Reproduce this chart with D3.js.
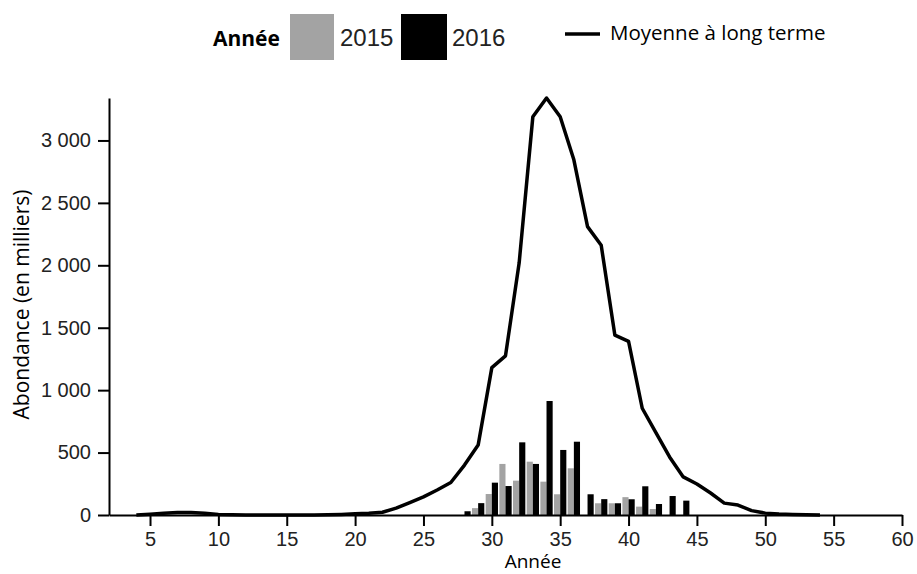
<!DOCTYPE html>
<html>
<head>
<meta charset="utf-8">
<script src="https://cdn.jsdelivr.net/npm/d3@7"></script>
<style>
  body { margin: 0; background: #fff; }
  svg { display: block; }
</style>
</head>
<body>
<div class="graph-container"></div>
<script>
// Données (abondance en milliers)
const years = [28, 29, 30, 31, 32, 33, 34, 35, 36, 37, 38, 39, 40, 41, 42, 43, 44];
const values2015 = [0, 55, 168, 409, 275, 427, 267, 166, 374, 0, 94, 94, 143, 67, 48, 0, 0];
const values2016 = [30, 95, 259, 232, 582, 409, 913, 521, 587, 166, 127, 94, 126, 230, 88, 152, 115];

// Moyenne à long terme
const meanYears = [4, 5, 6, 7, 8, 9, 10, 11, 12, 13, 14, 15, 16, 17, 18, 19, 20, 21, 22, 23, 24, 25, 26, 27, 28, 29,
  30, 31, 32, 33, 34, 35, 36, 37, 38, 39, 40, 41, 42, 43, 44, 45, 46, 47, 48, 49, 50, 51, 52, 53, 54];
const meanValues = [0, 6, 14, 20, 20, 14, 5, 2, 0, 0, 0, 0, 0, 0, 2, 5, 10, 14, 22, 55, 100, 145, 200, 260, 400, 560,
  1180, 1275, 2020, 3190, 3340, 3190, 2845, 2310, 2160, 1440, 1390, 855, 660, 465, 305, 248, 176, 95, 80, 35, 15, 8, 4, 2, 0];

const xTicks = [5, 10, 15, 20, 25, 30, 35, 40, 45, 50, 55, 60];
const yTicks = [0, 500, 1000, 1500, 2000, 2500, 3000];

const width = 917, height = 574;
const margin = { top: 98, right: 15, bottom: 59, left: 109 };

const svg = d3.select(".graph-container")
  .append("svg")
  .attr("width", width)
  .attr("height", height);

const x = d3.scaleLinear()
  .domain([2, 60])
  .range([margin.left, width - margin.right]);

const y = d3.scaleLinear()
  .domain([0, 3340])
  .range([height - margin.bottom, margin.top]);

const fr = d3.formatLocale({ decimal: ",", thousands: " ", grouping: [3], currency: ["", " €"] });

// Barres 2015 (gris) à gauche, 2016 (noir) à droite de l'année
const barW = 0.45;
svg.append("g").selectAll("rect")
  .data(years.map((d, i) => ({ year: d, v: values2015[i] })))
  .join("rect")
  .attr("x", d => x(d.year - barW))
  .attr("width", d => x(d.year) - x(d.year - barW))
  .attr("y", d => y(d.v))
  .attr("height", d => y(0) - y(d.v))
  .attr("fill", "#a3a3a3");

svg.append("g").selectAll("rect")
  .data(years.map((d, i) => ({ year: d, v: values2016[i] })))
  .join("rect")
  .attr("x", d => x(d.year))
  .attr("width", d => x(d.year + barW) - x(d.year))
  .attr("y", d => y(d.v))
  .attr("height", d => y(0) - y(d.v))
  .attr("fill", "#000");

// Axes
const xAxis = svg.append("g")
  .attr("transform", `translate(0,${y(0)})`)
  .call(d3.axisBottom(x).tickValues(xTicks).tickSize(11).tickSizeOuter(0).tickPadding(6));
xAxis.select(".domain").attr("stroke-width", 2);
xAxis.selectAll(".tick line").attr("stroke-width", 2);
xAxis.selectAll("text")
  .attr("font-family", "Liberation Sans, Arial, sans-serif")
  .attr("font-size", 20)
  .attr("fill", "#222");

const yAxis = svg.append("g")
  .attr("transform", `translate(${x(2)},0)`)
  .call(d3.axisLeft(y).tickValues(yTicks).tickSize(11).tickSizeOuter(0).tickPadding(7)
    .tickFormat(fr.format(",")));
yAxis.select(".domain").attr("stroke-width", 2);
yAxis.selectAll(".tick line").attr("stroke-width", 2);
yAxis.selectAll("text")
  .attr("font-family", "Liberation Sans, Arial, sans-serif")
  .attr("font-size", 20)
  .attr("fill", "#222");

// Ligne moyenne à long terme
svg.append("path")
  .datum(meanYears.map((d, i) => ({ year: d, v: meanValues[i] })))
  .attr("fill", "none")
  .attr("stroke", "#000")
  .attr("stroke-width", 3.5)
  .attr("stroke-linejoin", "round")
  .attr("d", d3.line().x(d => x(d.year)).y(d => y(d.v)));

// Titres des axes
svg.append("text")
  .attr("x", 533)
  .attr("y", 568)
  .attr("text-anchor", "middle")
  .attr("font-family", "Open Sans, sans-serif")
  .attr("font-size", 19)
  .text("Année");

svg.append("text")
  .attr("transform", `translate(29,${(y(0) + y(3340)) / 2 - 2}) rotate(-90)`)
  .attr("text-anchor", "middle")
  .attr("font-family", "Open Sans, sans-serif")
  .attr("font-size", 21)
  .text("Abondance (en milliers)");

// Légende
const legend = svg.append("g");
legend.append("text")
  .attr("x", 213)
  .attr("y", 46)
  .attr("font-family", "Open Sans, sans-serif")
  .attr("font-weight", "bold")
  .attr("font-size", 21)
  .text("Année");
legend.append("rect").attr("x", 290).attr("y", 14).attr("width", 44).attr("height", 46).attr("fill", "#a3a3a3");
legend.append("text")
  .attr("x", 340).attr("y", 46)
  .attr("font-family", "Liberation Sans, Arial, sans-serif")
  .attr("font-size", 24).attr("fill", "#222")
  .text("2015");
legend.append("rect").attr("x", 401).attr("y", 14).attr("width", 46).attr("height", 46).attr("fill", "#000");
legend.append("text")
  .attr("x", 452).attr("y", 46)
  .attr("font-family", "Liberation Sans, Arial, sans-serif")
  .attr("font-size", 24).attr("fill", "#222")
  .text("2016");
legend.append("line")
  .attr("x1", 565).attr("x2", 600).attr("y1", 34).attr("y2", 34)
  .attr("stroke", "#000").attr("stroke-width", 3.5);
legend.append("text")
  .attr("x", 610).attr("y", 40)
  .attr("font-family", "Open Sans, sans-serif")
  .attr("font-size", 20.5)
  .text("Moyenne à long terme");
</script>
</body>
</html>
